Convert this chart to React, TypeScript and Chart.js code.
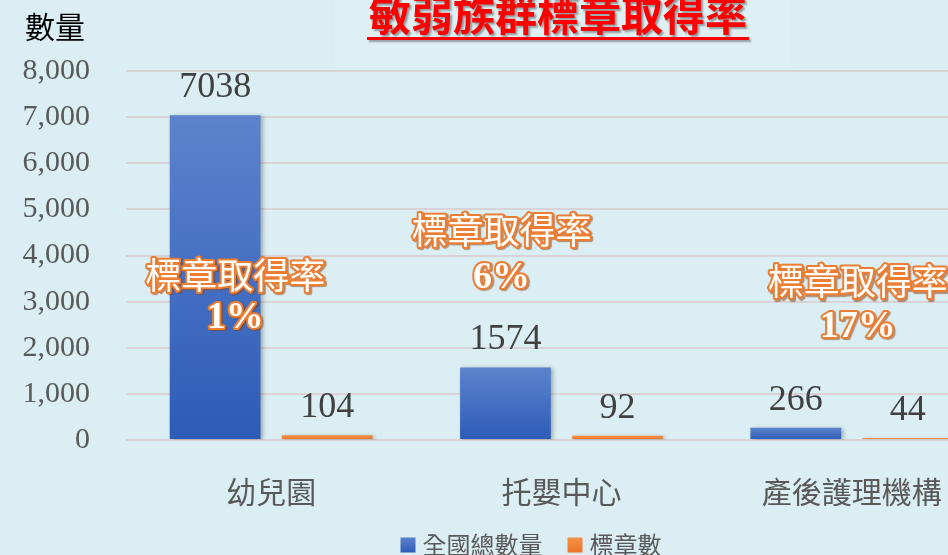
import React, { useEffect, useRef } from "react";
import { Chart, registerables } from "chart.js";

Chart.register(...registerables);

// ---- data ----
const categories = ["幼兒園", "托嬰中心", "產後護理機構"];
const totalCounts = [7038, 1574, 266];
const badgeCounts = [104, 92, 44];
const seriesNames = ["全國總數量", "標章數"];
const yMin = 0;
const yMax = 8000;
const yStep = 1000;
const chartTitle = "敏弱族群標章取得率";
const yAxisTitle = "數量";
const rateLabel = "標章取得率";

// ---- annotation placement (layout, not data) ----
const rateDx = [-36, -60, 6];
const rateLabelY = [3580, 4555, 3430];
const ratePctY = [2650, 3515, 2450];

const BG = "#DAEEF3";
const CJK = '"Noto Sans CJK TC", "Noto Sans CJK SC", "Noto Sans", sans-serif';
const SERIF = '"Liberation Serif", "Times New Roman", "DejaVu Serif", serif';
const LEGEND_SOLID = ["#4472C4", "#ED7D31"];

function gradFill(light: string, dark: string, solid: string) {
  return (c: any) => {
    const chart = c.chart;
    const ys = chart.scales && chart.scales.y;
    if (c.type !== "data" || !ys || !chart.chartArea) return solid;
    const top = ys.getPixelForValue(c.raw);
    const base = ys.getPixelForValue(0);
    if (!isFinite(top) || !isFinite(base) || top === base) return solid;
    const g = chart.ctx.createLinearGradient(0, top, 0, base);
    g.addColorStop(0, light);
    g.addColorStop(1, dark);
    return g;
  };
}

function outlinedText(ctx: CanvasRenderingContext2D, text: string, x: number, y: number, font: string) {
  ctx.save();
  ctx.font = font;
  ctx.textAlign = "center";
  ctx.textBaseline = "middle";
  ctx.lineJoin = "round";
  ctx.shadowColor = "rgba(140,60,10,0.55)";
  ctx.shadowOffsetX = 1.5;
  ctx.shadowOffsetY = 1.5;
  ctx.shadowBlur = 1;
  ctx.strokeStyle = "#ED7D31";
  ctx.lineWidth = 4;
  ctx.strokeText(text, x, y);
  ctx.shadowColor = "transparent";
  ctx.fillStyle = "#FFFFFF";
  ctx.fillText(text, x, y);
  ctx.restore();
}

const decorPlugin = {
  id: "decor",
  beforeDraw(chart: any) {
    const ctx = chart.ctx;
    ctx.save();
    ctx.fillStyle = BG;
    ctx.fillRect(0, 0, chart.width, chart.height);
    ctx.fillStyle = "rgba(255,255,255,0.12)";
    ctx.fillRect(335, 0, 455, 68);
    ctx.restore();
  },
  beforeDatasetsDraw(chart: any) {
    const ctx = chart.ctx;
    ctx.save();
    ctx.shadowColor = "rgba(0,0,0,0.28)";
    ctx.shadowBlur = 4;
    ctx.shadowOffsetX = 2;
    ctx.shadowOffsetY = 1;
  },
  afterDatasetsDraw(chart: any) {
    chart.ctx.restore();
  },
  afterDraw(chart: any) {
    const ctx = chart.ctx;
    const xs = chart.scales.x;
    const ys = chart.scales.y;

    // value labels
    ctx.save();
    ctx.font = `36px ${SERIF}`;
    ctx.fillStyle = "#404040";
    ctx.textAlign = "center";
    ctx.textBaseline = "alphabetic";
    chart.data.datasets.forEach((ds: any, i: number) => {
      const meta = chart.getDatasetMeta(i);
      meta.data.forEach((bar: any, j: number) => {
        ctx.fillText(String(ds.data[j]), bar.x, bar.y - 18);
      });
    });
    ctx.restore();

    // y axis title
    ctx.save();
    ctx.font = `30px ${CJK}`;
    ctx.fillStyle = "#000000";
    ctx.textAlign = "center";
    ctx.textBaseline = "middle";
    ctx.fillText(yAxisTitle, 55, 27);
    ctx.restore();

    // chart title
    ctx.save();
    ctx.font = `bold 42px ${CJK}`;
    ctx.textAlign = "center";
    ctx.textBaseline = "middle";
    ctx.shadowColor = "rgba(0,0,0,0.35)";
    ctx.shadowOffsetX = 2;
    ctx.shadowOffsetY = 2;
    ctx.shadowBlur = 2;
    ctx.fillStyle = "#FF0000";
    ctx.fillText(chartTitle, 558, 15);
    const w = ctx.measureText(chartTitle).width;
    ctx.fillRect(558 - w / 2 - 2, 37, w + 4, 3);
    ctx.restore();

    // rate annotations
    categories.forEach((_, j) => {
      const cx = xs.getPixelForValue(j) + rateDx[j];
      const pct = Math.round((badgeCounts[j] / totalCounts[j]) * 100);
      outlinedText(ctx, rateLabel, cx, ys.getPixelForValue(rateLabelY[j]), `36px ${CJK}`);
      outlinedText(ctx, `${pct}%`, cx, ys.getPixelForValue(ratePctY[j]), `bold 38px ${SERIF}`);
    });

    // legend
    ctx.save();
    ctx.font = `24px ${CJK}`;
    const box = 15;
    const gapText = 7;
    const gapItem = 25;
    const widths = seriesNames.map((n) => ctx.measureText(n).width);
    const total = widths.reduce((a, b) => a + b, 0) + seriesNames.length * (box + gapText) + gapItem * (seriesNames.length - 1);
    let lx = 531 - total / 2;
    const ly = 545;
    ctx.textAlign = "left";
    ctx.textBaseline = "middle";
    seriesNames.forEach((n, i) => {
      const g = ctx.createLinearGradient(0, ly - box / 2, 0, ly + box / 2);
      if (i === 0) {
        g.addColorStop(0, "#5C83CD");
        g.addColorStop(1, "#2D5CB6");
      } else {
        g.addColorStop(0, "#F59048");
        g.addColorStop(1, "#EB7426");
      }
      ctx.fillStyle = g || LEGEND_SOLID[i];
      ctx.fillRect(lx, ly - box / 2, box, box);
      lx += box + gapText;
      ctx.fillStyle = "#595959";
      ctx.fillText(n, lx, ly);
      lx += widths[i] + gapItem;
    });
    ctx.restore();
  },
};

export default function App() {
  const ref = useRef<HTMLCanvasElement | null>(null);

  useEffect(() => {
    document.body.style.margin = "0";
    const canvas = ref.current;
    if (!canvas) return;
    const chart = new Chart(canvas, {
      type: "bar",
      data: {
        labels: categories,
        datasets: [
          {
            label: seriesNames[0],
            data: totalCounts,
            backgroundColor: gradFill("#5C83CD", "#2D5CB6", LEGEND_SOLID[0]),
            borderWidth: 0,
            categoryPercentage: 0.772,
            barPercentage: 0.81,
          },
          {
            label: seriesNames[1],
            data: badgeCounts,
            backgroundColor: gradFill("#F59048", "#EB7426", LEGEND_SOLID[1]),
            borderWidth: 0,
            categoryPercentage: 0.772,
            barPercentage: 0.81,
          },
        ],
      },
      options: {
        responsive: false,
        animation: false,
        devicePixelRatio: 1,
        locale: "en-US",
        layout: { padding: { left: 10, right: 3, top: 71, bottom: 0 } },
        plugins: {
          legend: { display: false },
          title: { display: false },
          tooltip: { enabled: false },
        },
        scales: {
          x: {
            grid: { display: false, drawTicks: false },
            border: { display: false },
            ticks: {
              padding: 34,
              color: "#595959",
              font: { size: 30, family: CJK },
              maxRotation: 0,
              autoSkip: false,
            },
            afterFit: (s: any) => {
              s.height = 115;
            },
          },
          y: {
            min: yMin,
            max: yMax,
            grid: { color: "#D9D3D7", lineWidth: 2, drawTicks: false },
            border: { display: false },
            ticks: {
              stepSize: yStep,
              padding: 36,
              color: "#595959",
              font: { size: 30, family: SERIF },
              callback: (v: any) => Number(v).toLocaleString("en-US"),
            },
            afterFit: (s: any) => {
              s.width = 116;
            },
          },
        },
      },
      plugins: [decorPlugin],
    });
    return () => chart.destroy();
  }, []);

  return (
    <div
      style={{
        position: "fixed",
        left: 0,
        top: 0,
        width: 948,
        height: 555,
        overflow: "hidden",
        background: BG,
      }}
    >
      <canvas ref={ref} width={1000} height={555} style={{ display: "block", width: 1000, height: 555 }} />
    </div>
  );
}
